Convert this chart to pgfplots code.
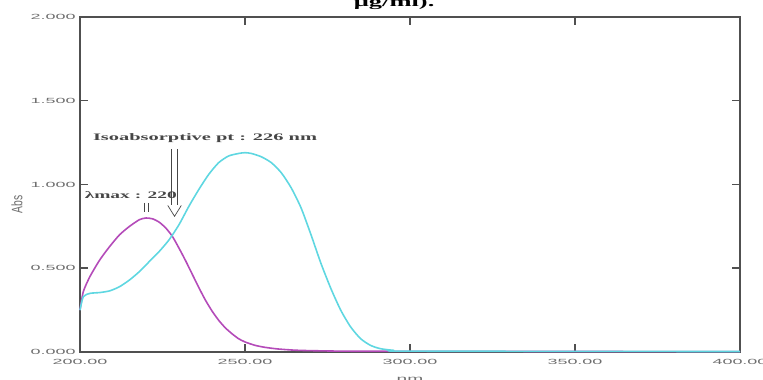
\documentclass[border=0pt]{standalone}
\usepackage{pgfplots}
\pgfplotsset{compat=1.18}
\usepackage{fontspec}
\setmainfont{Liberation Serif}
\newfontfamily\tickfont{Liberation Sans}
\usepackage{graphicx}
\definecolor{magc}{RGB}{180,75,185}
\definecolor{cyanc}{RGB}{95,215,225}
\definecolor{axc}{RGB}{80,80,80}
\definecolor{tickc}{RGB}{110,110,110}
\definecolor{annc}{RGB}{70,70,70}
\begin{document}
\begin{tikzpicture}
\begin{axis}[name=ax, at={(0,0)}, anchor=south west,
 scale only axis, width=660bp, height=335bp,
 xmin=200, xmax=400, ymin=0, ymax=2,
 xtick={200,250,300,350,400}, ytick={0,0.5,1,1.5,2},
 xtick pos=both, ytick pos=both, tick align=inside,
 axis line style={axc, line width=1.3bp},
 every tick/.style={draw=axc, line width=1.5bp}, major tick length=8bp,
 tick label style={font=\tickfont\fontsize{7.5}{8}\selectfont, text=tickc},
 /pgf/number format/assume math mode=true,
 xticklabel={\scalebox{2.4}[1]{\pgfmathprintnumber[fixed,fixed zerofill,precision=2]{\tick}}},
 yticklabel={\scalebox{2.4}[1]{\pgfmathprintnumber[fixed,fixed zerofill,precision=3]{\tick}}},
 xticklabel style={yshift=-4bp},
 yticklabel style={xshift=-1bp},
 ylabel={\scalebox{1.3}[1.9]{Abs}},
 ylabel style={font=\tickfont\fontsize{8}{9}\selectfont, text=tickc, at={(axis description cs:-0.0955,0.44)}, anchor=center},
 xlabel={\scalebox{2.4}[1]{nm}},
 xlabel style={font=\tickfont\fontsize{8}{9}\selectfont, text=tickc, at={(axis description cs:0.5,-0.066)}, anchor=north},
 clip=false,
]
\addplot[magc, line width=1.6bp, smooth, tension=0.4] coordinates {
(200,0.25) (201,0.36) (203,0.45) (206,0.55) (209,0.63) (212,0.70) (215,0.75)
(218,0.79) (220,0.80) (222,0.795) (224,0.775) (226,0.74) (228,0.69) (230,0.62)
(232,0.545) (234,0.465) (236,0.385) (238,0.31) (240,0.245) (242,0.19) (244,0.145)
(246,0.11) (248,0.08) (250,0.06) (253,0.04) (256,0.028) (260,0.018) (265,0.011)
(270,0.008) (280,0.005) (300,0.004) (400,0.002)
};
\addplot[cyanc, line width=1.6bp, smooth, tension=0.4] coordinates {
(200,0.25) (201,0.33) (203,0.35) (206,0.355) (209,0.365) (212,0.39) (215,0.43)
(218,0.48) (221,0.54) (224,0.60) (227,0.67) (230,0.76) (233,0.87) (236,0.97)
(239,1.06) (242,1.13) (245,1.17) (248,1.185) (250,1.19) (252,1.185) (255,1.165)
(258,1.13) (261,1.07) (264,0.98) (267,0.86) (270,0.70) (273,0.53) (276,0.38)
(279,0.25) (282,0.15) (285,0.08) (288,0.04) (291,0.02) (295,0.01) (300,0.005)
(400,0.003)
};
% annotations
\node[font=\bfseries\fontsize{10}{11}\selectfont, text=annc] at (axis cs:237.9,1.278) {\scalebox{2.05}[1]{Isoabsorptive pt : 226 nm}};
\draw[annc, line width=0.7bp] (axis cs:227.8,1.21) -- (axis cs:227.8,0.875);
\draw[annc, line width=0.7bp] (axis cs:229.5,1.21) -- (axis cs:229.5,0.875);
\draw[annc, line width=0.7bp] (axis cs:226.6,0.875) -- (axis cs:228.65,0.81) -- (axis cs:230.7,0.875);
\node[font=\bfseries\fontsize{10}{11}\selectfont, text=annc] at (axis cs:215.4,0.937) {\scalebox{1.95}[1]{λmax : 220}};
\draw[annc, line width=0.7bp] (axis cs:219.5,0.89) -- (axis cs:219.5,0.835);
\draw[annc, line width=0.7bp] (axis cs:220.8,0.89) -- (axis cs:220.8,0.835);
\node[font=\bfseries\fontsize{14}{15}\selectfont, anchor=base] at (rel axis cs:0.476,1.03) {\scalebox{1.9}[1]{μg/ml).}};
\end{axis}
\pgfresetboundingbox
\path[use as bounding box] (-80bp,-28bp) rectangle (683bp,352bp);
\end{tikzpicture}
\end{document}
